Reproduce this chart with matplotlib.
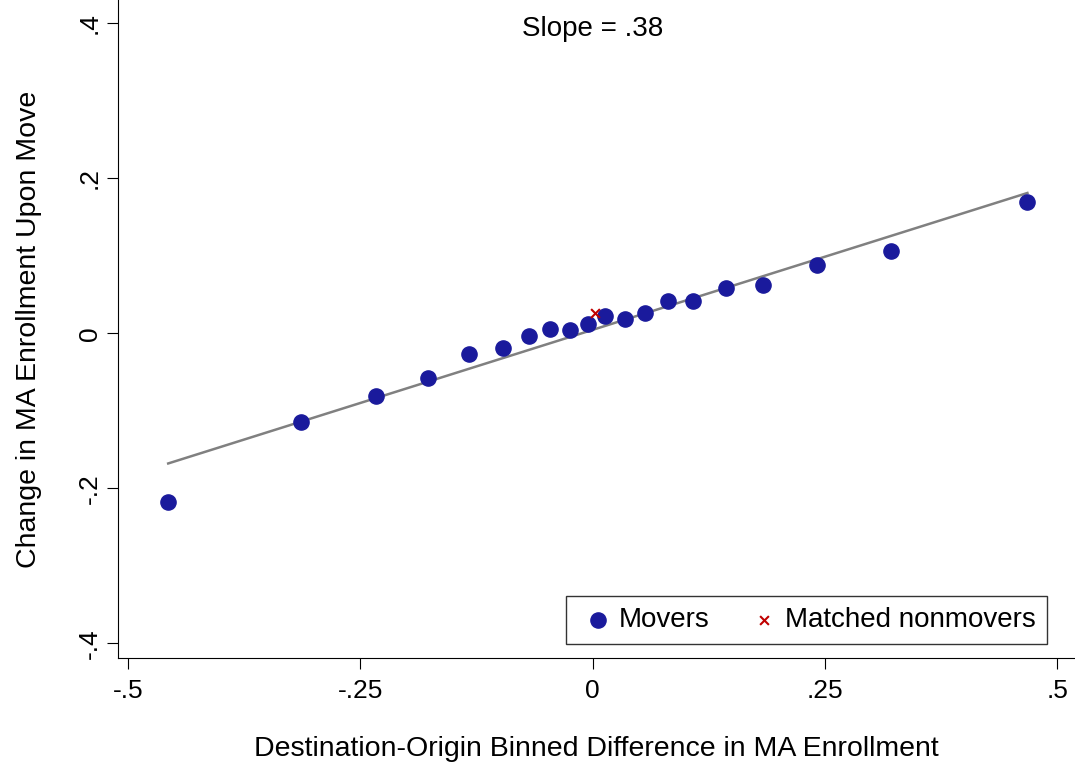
import numpy as np
import matplotlib.pyplot as plt

x_movers = [-0.457, -0.314, -0.233, -0.177, -0.133, -0.097, -0.069, -0.046, -0.024, -0.005,
            0.013, 0.035, 0.056, 0.081, 0.108, 0.143, 0.183, 0.242, 0.321, 0.468]
y_movers = [-0.218, -0.115, -0.081, -0.058, -0.027, -0.019, -0.004, 0.005, 0.004, 0.012,
            0.022, 0.018, 0.026, 0.041, 0.041, 0.059, 0.062, 0.088, 0.106, 0.169]
x_nonmovers = [0.003]
y_nonmovers = [0.026]
fit_x = [-0.457, 0.468]
fit_y = [-0.168, 0.181]

plt.rcParams['font.family'] = ['Liberation Sans', 'DejaVu Sans']
fig = plt.figure(figsize=(10.75, 7.62), dpi=100)
ax = fig.add_axes([0.1098, 0.1365, 0.89, 0.8635])

ax.plot(fit_x, fit_y, color='#808080', lw=1.8, zorder=1)
ax.scatter(x_movers, y_movers, s=120, color='#1a1a9c', label='Movers', zorder=2)
ax.scatter(x_nonmovers, y_nonmovers, s=40, marker='x', color='#c00000', linewidths=1.5,
           label='Matched nonmovers', zorder=3)

ax.set_xlim(-0.511, 0.519)
ax.set_ylim(-0.419, 0.43)
ax.set_xticks([-0.5, -0.25, 0, 0.25, 0.5])
ax.set_xticklabels(['-.5', '-.25', '0', '.25', '.5'])
ax.set_yticks([-0.4, -0.2, 0, 0.2, 0.4])
ax.set_yticklabels(['-.4', '-.2', '0', '.2', '.4'], rotation=90, va='center')
ax.tick_params(labelsize=19, length=8)
ax.tick_params(axis='x', pad=7)
ax.spines['top'].set_visible(False)
ax.spines['right'].set_visible(False)

ax.set_xlabel('Destination-Origin Binned Difference in MA Enrollment', fontsize=20.5, labelpad=24)
ax.set_ylabel('Change in MA Enrollment Upon Move', fontsize=20.5, labelpad=26)
ax.text(0.0, 0.393, 'Slope = .38', fontsize=20, ha='center', va='center')

leg = ax.legend(loc='lower right', ncol=2, fontsize=20, fancybox=False, edgecolor='black',
                bbox_to_anchor=(0.985, 0.0), handletextpad=0.0, columnspacing=1.2,
                borderpad=0.4, handlelength=1.5)
leg.get_frame().set_linewidth(1.0)

fig.savefig('out.png', dpi=100)
